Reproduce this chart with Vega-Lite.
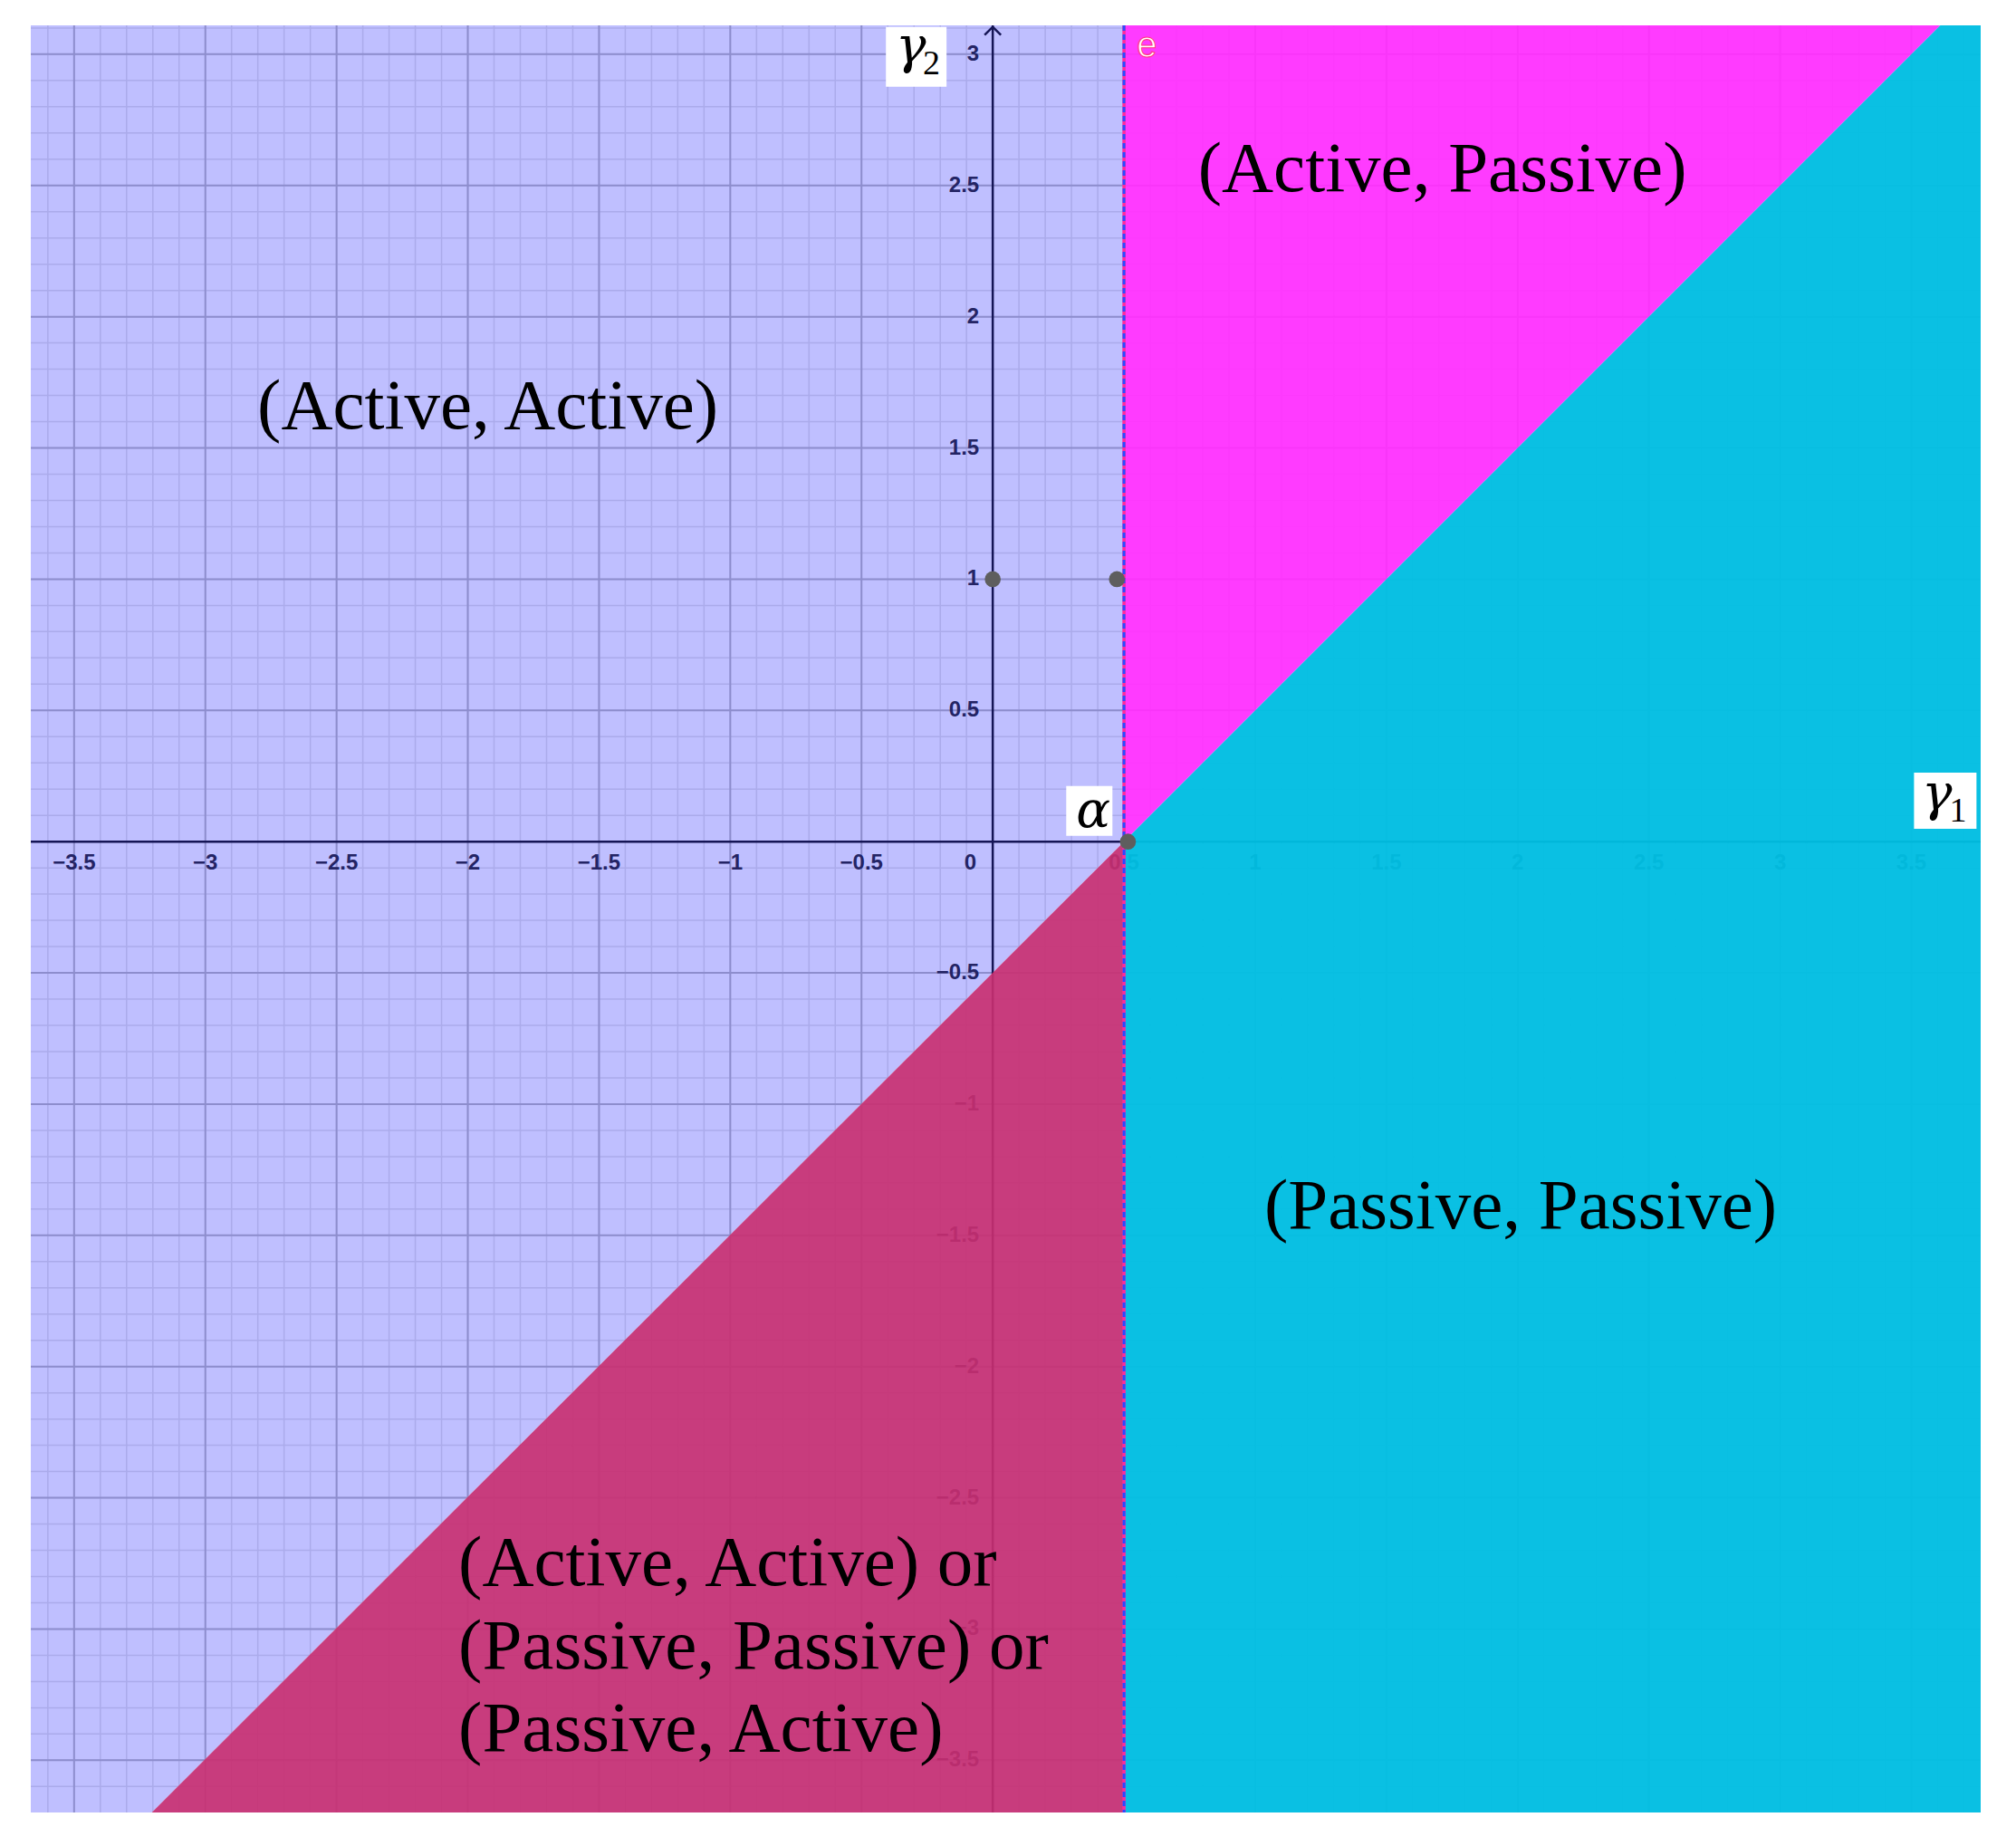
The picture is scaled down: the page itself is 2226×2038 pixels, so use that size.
{
  "$schema": "https://vega.github.io/schema/vega-lite/v6.json",
  "width": 2153,
  "height": 1973,
  "autosize": {"type": "none"},
  "padding": {"left": 34, "top": 28, "right": 39, "bottom": 37},
  "background": "#ffffff",
  "config": {"view": {"stroke": null}},
  "data": {"values": [{}]},
  "datasets": {
    "minx": [-3.6,-3.5,-3.4,-3.3,-3.2,-3.1,-3,-2.9,-2.8,-2.7,-2.6,-2.5,-2.4,-2.3,-2.2,-2.1,-2,-1.9,-1.8,-1.7,-1.6,-1.5,-1.4,-1.3,-1.2,-1.1,-1,-0.9,-0.8,-0.7,-0.6,-0.5,-0.4,-0.3,-0.2,-0.1,0,0.1,0.2,0.3,0.4,0.5,0.6,0.7,0.8,0.9,1,1.1,1.2,1.3,1.4,1.5,1.6,1.7,1.8,1.9,2,2.1,2.2,2.3,2.4,2.5,2.6,2.7,2.8,2.9,3,3.1,3.2,3.3,3.4,3.5,3.6,3.7],
    "miny": [-3.6,-3.5,-3.4,-3.3,-3.2,-3.1,-3,-2.9,-2.8,-2.7,-2.6,-2.5,-2.4,-2.3,-2.2,-2.1,-2,-1.9,-1.8,-1.7,-1.6,-1.5,-1.4,-1.3,-1.2,-1.1,-1,-0.9,-0.8,-0.7,-0.6,-0.5,-0.4,-0.3,-0.2,-0.1,0,0.1,0.2,0.3,0.4,0.5,0.6,0.7,0.8,0.9,1,1.1,1.2,1.3,1.4,1.5,1.6,1.7,1.8,1.9,2,2.1,2.2,2.3,2.4,2.5,2.6,2.7,2.8,2.9,3,3.1],
    "majx": [-3.5,-3,-2.5,-2,-1.5,-1,-0.5,0.5,1,1.5,2,2.5,3,3.5],
    "majy": [-3.5,-3,-2.5,-2,-1.5,-1,-0.5,0.5,1,1.5,2,2.5,3],
    "xlabels": [
      {"v": -3.5, "t": "−3.5"}, {"v": -3, "t": "−3"}, {"v": -2.5, "t": "−2.5"}, {"v": -2, "t": "−2"},
      {"v": -1.5, "t": "−1.5"}, {"v": -1, "t": "−1"}, {"v": -0.5, "t": "−0.5"}, {"v": 0.5, "t": "0.5"},
      {"v": 1, "t": "1"}, {"v": 1.5, "t": "1.5"}, {"v": 2, "t": "2"}, {"v": 2.5, "t": "2.5"},
      {"v": 3, "t": "3"}, {"v": 3.5, "t": "3.5"}
    ],
    "ylabels": [
      {"v": 3, "t": "3"}, {"v": 2.5, "t": "2.5"}, {"v": 2, "t": "2"}, {"v": 1.5, "t": "1.5"},
      {"v": 1, "t": "1"}, {"v": 0.5, "t": "0.5"}, {"v": -0.5, "t": "−0.5"}, {"v": -1, "t": "−1"},
      {"v": -1.5, "t": "−1.5"}, {"v": -2, "t": "−2"}, {"v": -2.5, "t": "−2.5"}, {"v": -3, "t": "−3"},
      {"v": -3.5, "t": "−3.5"}
    ],
    "regions": [
      {"region": "aa", "x": -3.665, "y": -3.699, "y2": 3.11},
      {"region": "aa", "x": -3.204, "y": -3.699, "y2": 3.11},
      {"region": "aa", "x": 0.5, "y": 0, "y2": 3.11},
      {"region": "ap", "x": 0.5, "y": 0, "y2": 3.11},
      {"region": "ap", "x": 3.61, "y": 3.11, "y2": 3.11},
      {"region": "ap", "x": 3.764, "y": 3.11, "y2": 3.11},
      {"region": "pp", "x": 0.5, "y": -3.699, "y2": 0},
      {"region": "pp", "x": 3.61, "y": -3.699, "y2": 3.11},
      {"region": "pp", "x": 3.764, "y": -3.699, "y2": 3.11},
      {"region": "mix", "x": -3.204, "y": -3.699, "y2": -3.699},
      {"region": "mix", "x": 0.5, "y": -3.699, "y2": 0}
    ],
    "points": [{"x": 0, "y": 1}, {"x": 0.473, "y": 1}, {"x": 0.515, "y": 0}],
    "boxes": [
      {"x": -0.407, "x2": -0.176, "y": 2.876, "y2": 3.104},
      {"x": 3.51, "x2": 3.748, "y": 0.049, "y2": 0.263},
      {"x": 0.28, "x2": 0.456, "y": 0.022, "y2": 0.212}
    ],
    "greek": [
      {"x": -0.37, "y": 2.969, "t": "γ"},
      {"x": 3.54, "y": 0.122, "t": "γ"},
      {"x": 0.318, "y": 0.056, "t": "α"}
    ],
    "subs": [
      {"x": -0.266, "y": 2.924, "t": "2"},
      {"x": 3.645, "y": 0.077, "t": "1"}
    ],
    "centerText": [
      {"x": -1.924, "y": 1.575, "t": "(Active, Active)"},
      {"x": 1.713, "y": 2.477, "t": "(Active, Passive)"},
      {"x": 2.011, "y": -1.472, "t": "(Passive, Passive)"}
    ],
    "leftText": [
      {"x": -2.036, "y": -2.833, "t": "(Active, Active) or"},
      {"x": -2.036, "y": -3.151, "t": "(Passive, Passive) or"},
      {"x": -2.036, "y": -3.465, "t": "(Passive, Active)"}
    ]
  },
  "layer": [
    {
      "data": {"name": "minx"},
      "mark": {"type": "rule", "stroke": "#e4e4e4", "strokeWidth": 1.5},
      "encoding": {"x": {"field": "data", "type": "quantitative", "scale": {"domain": [-3.665, 3.764], "nice": false, "zero": false}, "axis": null}}
    },
    {
      "data": {"name": "miny"},
      "mark": {"type": "rule", "stroke": "#e4e4e4", "strokeWidth": 1.5},
      "encoding": {"y": {"field": "data", "type": "quantitative", "scale": {"domain": [-3.699, 3.11], "nice": false, "zero": false}, "axis": null}}
    },
    {
      "data": {"name": "majx"},
      "mark": {"type": "rule", "stroke": "#bdbdbd", "strokeWidth": 2},
      "encoding": {"x": {"field": "data", "type": "quantitative", "scale": {"domain": [-3.665, 3.764], "nice": false, "zero": false}, "axis": null}}
    },
    {
      "data": {"name": "majy"},
      "mark": {"type": "rule", "stroke": "#bdbdbd", "strokeWidth": 2},
      "encoding": {"y": {"field": "data", "type": "quantitative", "scale": {"domain": [-3.699, 3.11], "nice": false, "zero": false}, "axis": null}}
    },
    {
      "mark": {"type": "rule", "stroke": "#1c1c1c", "strokeWidth": 2.5},
      "encoding": {"y": {"datum": 0, "type": "quantitative", "scale": {"domain": [-3.699, 3.11], "nice": false, "zero": false}, "axis": null}}
    },
    {
      "mark": {"type": "rule", "stroke": "#1c1c1c", "strokeWidth": 2.5},
      "encoding": {"x": {"datum": 0, "type": "quantitative", "scale": {"domain": [-3.665, 3.764], "nice": false, "zero": false}, "axis": null}}
    },
    {
      "mark": {"type": "point", "shape": "M -1 1 L 0 0 L 1 1", "filled": false, "stroke": "#1c1c1c", "strokeWidth": 2.5, "size": 324, "opacity": 1},
      "encoding": {
        "x": {"datum": 0, "type": "quantitative", "scale": {"domain": [-3.665, 3.764], "nice": false, "zero": false}, "axis": null},
        "y": {"datum": 3.104, "type": "quantitative", "scale": {"domain": [-3.699, 3.11], "nice": false, "zero": false}, "axis": null}
      }
    },
    {
      "data": {"name": "xlabels"},
      "mark": {"type": "text", "font": "Liberation Sans", "fontWeight": "bold", "fontSize": 24, "fill": "#303030", "align": "center", "baseline": "middle", "dy": 24},
      "encoding": {
        "x": {"field": "v", "type": "quantitative", "scale": {"domain": [-3.665, 3.764], "nice": false, "zero": false}, "axis": null},
        "y": {"datum": 0, "type": "quantitative", "scale": {"domain": [-3.699, 3.11], "nice": false, "zero": false}, "axis": null},
        "text": {"field": "t"}
      }
    },
    {
      "data": {"name": "ylabels"},
      "mark": {"type": "text", "font": "Liberation Sans", "fontWeight": "bold", "fontSize": 24, "fill": "#303030", "align": "right", "baseline": "middle", "dx": -15},
      "encoding": {
        "x": {"datum": 0, "type": "quantitative", "scale": {"domain": [-3.665, 3.764], "nice": false, "zero": false}, "axis": null},
        "y": {"field": "v", "type": "quantitative", "scale": {"domain": [-3.699, 3.11], "nice": false, "zero": false}, "axis": null},
        "text": {"field": "t"}
      }
    },
    {
      "mark": {"type": "text", "font": "Liberation Sans", "fontWeight": "bold", "fontSize": 24, "fill": "#303030", "align": "right", "baseline": "middle", "dx": -18, "dy": 24, "text": "0"},
      "encoding": {
        "x": {"datum": 0, "type": "quantitative", "scale": {"domain": [-3.665, 3.764], "nice": false, "zero": false}, "axis": null},
        "y": {"datum": 0, "type": "quantitative", "scale": {"domain": [-3.699, 3.11], "nice": false, "zero": false}, "axis": null}
      }
    },
    {
      "data": {"name": "regions"},
      "transform": [{"filter": "datum.region === 'aa'"}],
      "mark": {"type": "area", "fill": "#0000ff", "opacity": 0.25},
      "encoding": {
        "x": {"field": "x", "type": "quantitative", "scale": {"domain": [-3.665, 3.764], "nice": false, "zero": false}, "axis": null},
        "y": {"field": "y", "type": "quantitative", "stack": null, "scale": {"domain": [-3.699, 3.11], "nice": false, "zero": false}, "axis": null},
        "y2": {"field": "y2"}
      }
    },
    {
      "data": {"name": "regions"},
      "transform": [{"filter": "datum.region === 'ap'"}],
      "mark": {"type": "area", "fill": "#ff26ff", "opacity": 0.9},
      "encoding": {
        "x": {"field": "x", "type": "quantitative", "scale": {"domain": [-3.665, 3.764], "nice": false, "zero": false}, "axis": null},
        "y": {"field": "y", "type": "quantitative", "stack": null, "scale": {"domain": [-3.699, 3.11], "nice": false, "zero": false}, "axis": null},
        "y2": {"field": "y2"}
      }
    },
    {
      "data": {"name": "regions"},
      "transform": [{"filter": "datum.region === 'pp'"}],
      "mark": {"type": "area", "fill": "#00bde2", "opacity": 0.96},
      "encoding": {
        "x": {"field": "x", "type": "quantitative", "scale": {"domain": [-3.665, 3.764], "nice": false, "zero": false}, "axis": null},
        "y": {"field": "y", "type": "quantitative", "stack": null, "scale": {"domain": [-3.699, 3.11], "nice": false, "zero": false}, "axis": null},
        "y2": {"field": "y2"}
      }
    },
    {
      "data": {"name": "regions"},
      "transform": [{"filter": "datum.region === 'mix'"}],
      "mark": {"type": "area", "fill": "#c42d73", "opacity": 0.93},
      "encoding": {
        "x": {"field": "x", "type": "quantitative", "scale": {"domain": [-3.665, 3.764], "nice": false, "zero": false}, "axis": null},
        "y": {"field": "y", "type": "quantitative", "stack": null, "scale": {"domain": [-3.699, 3.11], "nice": false, "zero": false}, "axis": null},
        "y2": {"field": "y2"}
      }
    },
    {
      "mark": {"type": "rule", "stroke": "#ff2a9a", "strokeWidth": 3.5},
      "encoding": {"x": {"datum": 0.5, "type": "quantitative", "scale": {"domain": [-3.665, 3.764], "nice": false, "zero": false}, "axis": null}}
    },
    {
      "mark": {"type": "rule", "stroke": "#2a4bff", "strokeWidth": 3, "strokeDash": [6, 4]},
      "encoding": {"x": {"datum": 0.5, "type": "quantitative", "scale": {"domain": [-3.665, 3.764], "nice": false, "zero": false}, "axis": null}}
    },
    {
      "data": {"name": "points"},
      "mark": {"type": "point", "shape": "circle", "filled": true, "fill": "#5e5e5e", "size": 310, "opacity": 1, "strokeWidth": 0},
      "encoding": {
        "x": {"field": "x", "type": "quantitative", "scale": {"domain": [-3.665, 3.764], "nice": false, "zero": false}, "axis": null},
        "y": {"field": "y", "type": "quantitative", "scale": {"domain": [-3.699, 3.11], "nice": false, "zero": false}, "axis": null}
      }
    },
    {
      "data": {"name": "boxes"},
      "mark": {"type": "rect", "fill": "#ffffff"},
      "encoding": {
        "x": {"field": "x", "type": "quantitative", "scale": {"domain": [-3.665, 3.764], "nice": false, "zero": false}, "axis": null},
        "x2": {"field": "x2"},
        "y": {"field": "y", "type": "quantitative", "scale": {"domain": [-3.699, 3.11], "nice": false, "zero": false}, "axis": null},
        "y2": {"field": "y2"}
      }
    },
    {
      "data": {"name": "greek"},
      "mark": {"type": "text", "font": "DejaVu Serif", "fontStyle": "italic", "fontSize": 56, "fill": "#000000", "align": "left", "baseline": "alphabetic"},
      "encoding": {
        "x": {"field": "x", "type": "quantitative", "scale": {"domain": [-3.665, 3.764], "nice": false, "zero": false}, "axis": null},
        "y": {"field": "y", "type": "quantitative", "scale": {"domain": [-3.699, 3.11], "nice": false, "zero": false}, "axis": null},
        "text": {"field": "t"}
      }
    },
    {
      "data": {"name": "subs"},
      "mark": {"type": "text", "font": "Liberation Serif", "fontSize": 38, "fill": "#000000", "align": "left", "baseline": "alphabetic"},
      "encoding": {
        "x": {"field": "x", "type": "quantitative", "scale": {"domain": [-3.665, 3.764], "nice": false, "zero": false}, "axis": null},
        "y": {"field": "y", "type": "quantitative", "scale": {"domain": [-3.699, 3.11], "nice": false, "zero": false}, "axis": null},
        "text": {"field": "t"}
      }
    },
    {
      "mark": {"type": "text", "font": "Liberation Sans", "fontSize": 40, "fill": "#ffffff", "stroke": "#ff3b8a", "strokeWidth": 1.2, "align": "center", "baseline": "alphabetic", "text": "e"},
      "encoding": {
        "x": {"datum": 0.587, "type": "quantitative", "scale": {"domain": [-3.665, 3.764], "nice": false, "zero": false}, "axis": null},
        "y": {"datum": 2.99, "type": "quantitative", "scale": {"domain": [-3.699, 3.11], "nice": false, "zero": false}, "axis": null}
      }
    },
    {
      "data": {"name": "centerText"},
      "mark": {"type": "text", "font": "Liberation Serif", "fontSize": 79, "fill": "#000000", "align": "center", "baseline": "alphabetic"},
      "encoding": {
        "x": {"field": "x", "type": "quantitative", "scale": {"domain": [-3.665, 3.764], "nice": false, "zero": false}, "axis": null},
        "y": {"field": "y", "type": "quantitative", "scale": {"domain": [-3.699, 3.11], "nice": false, "zero": false}, "axis": null},
        "text": {"field": "t"}
      }
    },
    {
      "data": {"name": "leftText"},
      "mark": {"type": "text", "font": "Liberation Serif", "fontSize": 79, "fill": "#000000", "align": "left", "baseline": "alphabetic"},
      "encoding": {
        "x": {"field": "x", "type": "quantitative", "scale": {"domain": [-3.665, 3.764], "nice": false, "zero": false}, "axis": null},
        "y": {"field": "y", "type": "quantitative", "scale": {"domain": [-3.699, 3.11], "nice": false, "zero": false}, "axis": null},
        "text": {"field": "t"}
      }
    }
  ]
}
